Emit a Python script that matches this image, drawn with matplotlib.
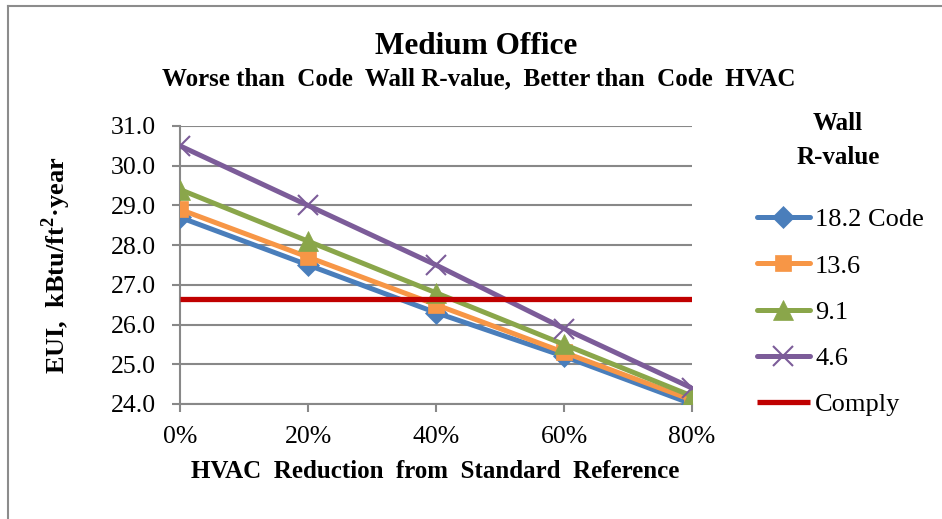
import matplotlib
matplotlib.use("Agg")
import matplotlib.pyplot as plt
from matplotlib.lines import Line2D

categories = ["0%", "20%", "40%", "60%", "80%"]
series_names = ["18.2 Code", "13.6", "9.1", "4.6"]
wall_18_2 = [28.7, 27.5, 26.3, 25.2, 24.0]
wall_13_6 = [28.9, 27.7, 26.5, 25.3, 24.1]
wall_9_1 = [29.4, 28.1, 26.8, 25.5, 24.2]
wall_4_6 = [30.5, 29.0, 27.5, 25.9, 24.4]
comply = [26.65, 26.65, 26.65, 26.65, 26.65]
y_ticks = [24.0, 25.0, 26.0, 27.0, 28.0, 29.0, 30.0, 31.0]

plt.rcParams['font.family'] = ['Liberation Serif', 'DejaVu Serif']

fig = plt.figure(figsize=(9.42, 5.19), dpi=100)
ax = fig.add_axes([180/942, 1-404/519, (692-180)/942, (404-126)/519])

x = list(range(len(categories)))
styles = [
    (wall_18_2, "#4A7EBB", "D", 11),
    (wall_13_6, "#F79646", "s", 11.5),
    (wall_9_1, "#8AA64A", "^", 14),
    (wall_4_6, "#7C5C99", "x", 14),
]
handles = []
for (vals, col, mk, ms), name in zip(styles, series_names):
    h, = ax.plot(x, vals, color=col, lw=3.6, marker=mk, markersize=ms,
                 markeredgecolor=col, markeredgewidth=1.5 if mk == "x" else 0.5,
                 solid_capstyle="round", label=name, zorder=3)
    handles.append(h)
hc, = ax.plot(x, comply, color="#C00000", lw=3.8, label="Comply", zorder=4,
              solid_capstyle="butt")
handles.append(hc)

ax.set_xlim(0, len(categories) - 1)
ax.set_ylim(24.0, 31.0)
ax.set_xticks(x)
ax.set_xticklabels(categories)
ax.set_yticks(y_ticks)
ax.set_yticklabels([f"{v:.1f}" for v in y_ticks])
ax.grid(axis="y", color="#888888", lw=1.5, zorder=1)
ax.set_axisbelow(True)
for s in ["top", "right"]:
    ax.spines[s].set_visible(False)
ax.spines["left"].set_color("#888888")
ax.spines["left"].set_linewidth(1.5)
ax.spines["bottom"].set_color("#888888")
ax.spines["bottom"].set_linewidth(1.5)
ax.tick_params(axis="both", colors="#888888", width=1.5, length=5.5, labelsize=18.5,
               labelcolor="black")
ax.tick_params(axis="y", pad=12)
ax.tick_params(axis="x", pad=10)
for lab in ax.get_xticklabels() + ax.get_yticklabels():
    lab.set_clip_on(False)

fig.text(476/942, 1-46/519, "Medium Office", ha="center", va="center",
         fontsize=22.5, fontweight="bold")
fig.text(479/942, 1-79/519,
         "Worse than  Code  Wall R-value,  Better than  Code  HVAC",
         ha="center", va="center", fontsize=18, fontweight="bold")
fig.text(435/942, 1-472/519, "HVAC  Reduction  from  Standard  Reference",
         ha="center", va="center", fontsize=18, fontweight="bold")
fig.text(56/942, 1-265/519, "EUI,  kBtu/ft$^{\\mathregular{2}}$·year",
         ha="center", va="center", rotation=90, fontsize=19, fontweight="bold")

# legend title
fig.text(838/942, 1-124/519, "Wall", ha="center", va="center",
         fontsize=18, fontweight="bold")
fig.text(838/942, 1-158/519, "R-value", ha="center", va="center",
         fontsize=18, fontweight="bold")

leg = fig.legend(handles=handles, labels=series_names + ["Comply"],
                 loc="upper left", bbox_to_anchor=(757/942, 1-208/519),
                 frameon=False, fontsize=19, handlelength=2.0,
                 handletextpad=0.2, labelspacing=0.86,
                 borderpad=0, borderaxespad=0)

# chart frame
fig.add_artist(Line2D([8/942, 8/942], [0, 1-6/519], color="#8c8c8c", lw=1.5,
                      transform=fig.transFigure))
fig.add_artist(Line2D([8/942, 1], [1-6/519, 1-6/519], color="#8c8c8c", lw=1.5,
                      transform=fig.transFigure))

fig.savefig("out.png", dpi=100)
